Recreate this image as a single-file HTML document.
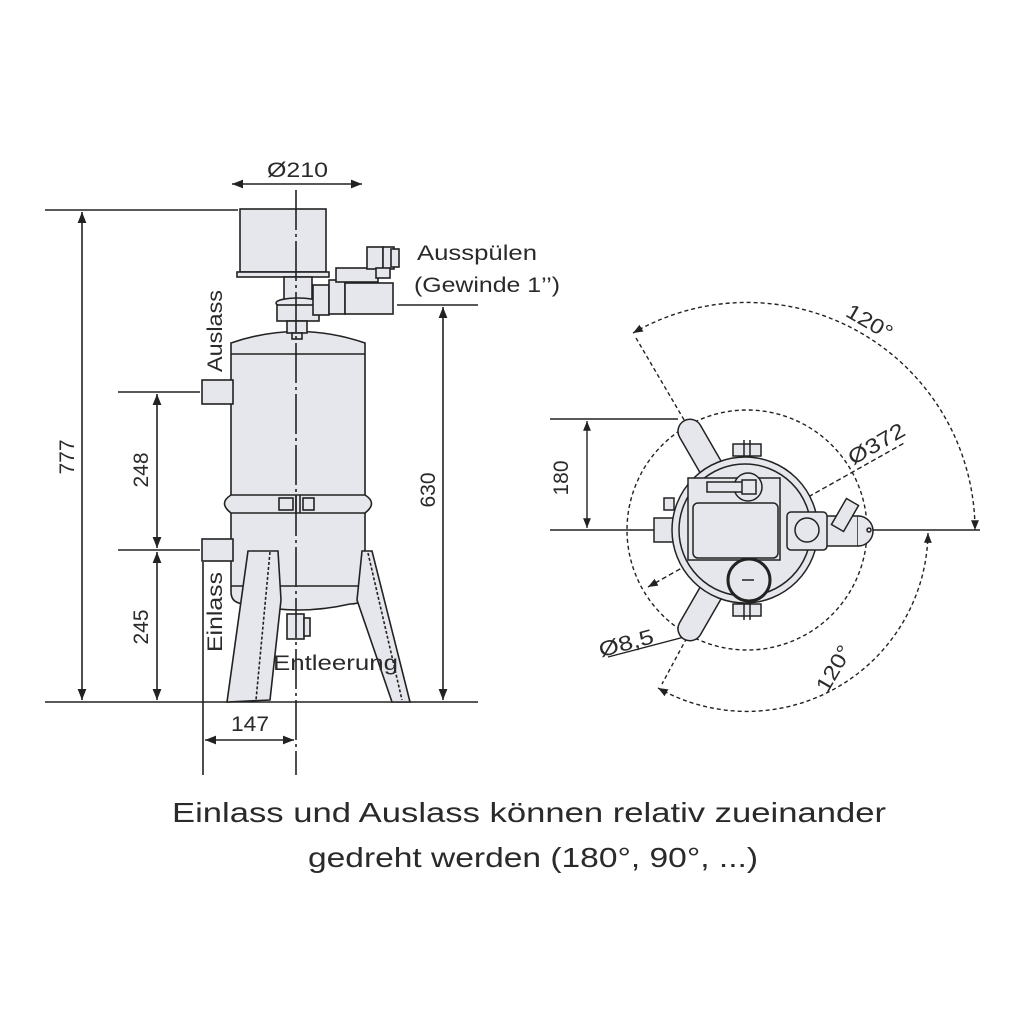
<!DOCTYPE html>
<html><head><meta charset="utf-8"><style>
html,body{margin:0;padding:0;background:#fff;}
svg{display:block}
text{font-family:"Liberation Sans",sans-serif;fill:#2a2a2a}
</style></head><body>
<svg width="1024" height="1024" viewBox="0 0 1024 1024" xmlns="http://www.w3.org/2000/svg">
<defs>
<marker id="a" viewBox="0 0 10 10" refX="10" refY="5" markerWidth="7" markerHeight="7" orient="auto-start-reverse"><path d="M0,1 L10,5 L0,9 z" fill="#222"/></marker>
</defs>
<g stroke="#222" stroke-width="1.6" fill="none">
<line x1="45" y1="210" x2="238" y2="210"/>
<line x1="45" y1="702" x2="478" y2="702"/>
<line x1="82" y1="212" x2="82" y2="700" marker-start="url(#a)" marker-end="url(#a)"/>
<line x1="118" y1="392" x2="200" y2="392"/>
<line x1="118" y1="550" x2="200" y2="550"/>
<line x1="157" y1="394" x2="157" y2="548" marker-start="url(#a)" marker-end="url(#a)"/>
<line x1="157" y1="552" x2="157" y2="700" marker-start="url(#a)" marker-end="url(#a)"/>
<line x1="397" y1="305" x2="478" y2="305"/>
<line x1="443" y1="307" x2="443" y2="700" marker-start="url(#a)" marker-end="url(#a)"/>
<line x1="203" y1="562" x2="203" y2="775"/>
<line x1="205" y1="740" x2="294" y2="740" marker-start="url(#a)" marker-end="url(#a)"/>
<line x1="232" y1="184" x2="362" y2="184" marker-start="url(#a)" marker-end="url(#a)"/>
</g>
<g stroke="#222" stroke-width="1.6" fill="#e6e7ec">
<path d="M231,592 L231,343 Q298,320 365,343 L365,592 Q365,604 350,604 Q298,616 246,604 Q231,604 231,592 z"/>
<line x1="231" y1="354" x2="365" y2="354"/>
<line x1="231" y1="586" x2="365" y2="586"/>
<path d="M231,495 L365,495 Q378,503 365,513 L231,513 Q218,503 231,495 z"/>
<rect x="279" y="498" width="14" height="12"/><rect x="303" y="498" width="11" height="12"/>
<line x1="296" y1="495" x2="296" y2="513"/><line x1="300" y1="495" x2="300" y2="513"/>
<rect x="202" y="380" width="31" height="24"/>
<rect x="202" y="539" width="31" height="22"/>
<path d="M248,551 L278,551 L281,600 L270,700 L227,702 z"/>
<path d="M362,551 L372,551 L410,702 L392,702 L357,600 z"/>
<line x1="270" y1="552" x2="256" y2="700" stroke-dasharray="3,2"/>
<line x1="368" y1="553" x2="402" y2="700" stroke-dasharray="3,2"/>
<rect x="287" y="614" width="17" height="25"/>
<rect x="304" y="618" width="6" height="18"/>
<rect x="240" y="209" width="86" height="63"/>
<rect x="237" y="272" width="92" height="5"/>
<rect x="284" y="277" width="28" height="24"/>
<ellipse cx="298" cy="303" rx="22" ry="5"/>
<rect x="277" y="305" width="42" height="16"/>
<rect x="287" y="321" width="20" height="12"/>
<rect x="292" y="333" width="10" height="6"/>
<rect x="313" y="285" width="16" height="30"/>
<rect x="329" y="280" width="16" height="34"/>
<rect x="345" y="283" width="48" height="31"/>
<rect x="336" y="268" width="42" height="14"/>
<rect x="367" y="247" width="16" height="22"/><rect x="383" y="247" width="11" height="22"/><rect x="391" y="249" width="8" height="18"/>
<rect x="376" y="268" width="14" height="10"/>
</g>
<line x1="296" y1="190" x2="296" y2="775" stroke="#222" stroke-width="1.6" stroke-dasharray="40,4,3,4"/>
<g font-size="21">
<text x="267" y="177" textLength="61" lengthAdjust="spacingAndGlyphs">Ø210</text>
<text x="417" y="260" textLength="120" lengthAdjust="spacingAndGlyphs">Ausspülen</text>
<text x="414" y="292" textLength="146" lengthAdjust="spacingAndGlyphs">(Gewinde 1’’)</text>
<text x="273" y="670" textLength="125" lengthAdjust="spacingAndGlyphs">Entleerung</text>
<text x="231" y="731" textLength="38" lengthAdjust="spacingAndGlyphs">147</text>
<text transform="translate(74,457) rotate(-90)" text-anchor="middle">777</text>
<text transform="translate(148,470) rotate(-90)" text-anchor="middle">248</text>
<text transform="translate(148,627) rotate(-90)" text-anchor="middle">245</text>
<text transform="translate(435,490) rotate(-90)" text-anchor="middle">630</text>
<text transform="translate(222,372) rotate(-90)" textLength="82" lengthAdjust="spacingAndGlyphs">Auslass</text>
<text transform="translate(222,652) rotate(-90)" textLength="80" lengthAdjust="spacingAndGlyphs">Einlass</text>
</g>
<g stroke="#222" stroke-width="1.4" fill="none">
<line x1="550" y1="530" x2="980" y2="530"/>
<line x1="550" y1="419" x2="678" y2="419"/>
<line x1="587" y1="421" x2="587" y2="528" marker-start="url(#a)" marker-end="url(#a)"/>
<circle cx="747" cy="530" r="120" stroke-dasharray="4,3"/>
<path d="M633,333 A228,228 0 0 1 975,530" stroke-dasharray="4,3" marker-start="url(#a)" marker-end="url(#a)"/>
<path d="M928,533 A181,181 0 0 1 658,688" stroke-dasharray="4,3" marker-start="url(#a)" marker-end="url(#a)"/>
<line x1="636" y1="338" x2="690" y2="430" stroke-dasharray="4,3"/>
<line x1="690" y1="632" x2="662" y2="684" stroke-dasharray="4,3"/>
<line x1="648" y1="587" x2="906" y2="442" stroke-dasharray="5,3" marker-start="url(#a)"/>
<line x1="608" y1="657" x2="692" y2="635"/>
</g>
<g stroke="#222" stroke-width="1.5" fill="#e6e7ec">
<g transform="rotate(-120 747 530)"><rect x="760" y="518" width="113" height="24" rx="12"/></g>
<g transform="rotate(120 747 530)"><rect x="760" y="518" width="113" height="24" rx="12"/></g>
<rect x="800" y="516" width="58" height="30"/>
<path d="M858,516 A14,14 0 0 1 858,546" />
<rect x="654" y="518" width="24" height="24"/>
<rect x="733" y="444" width="28" height="12"/><line x1="744" y1="440" x2="744" y2="460"/><line x1="750" y1="440" x2="750" y2="460"/>
<rect x="733" y="604" width="28" height="12"/><line x1="744" y1="600" x2="744" y2="620"/><line x1="750" y1="600" x2="750" y2="620"/>
<rect x="664" y="498" width="10" height="12"/>
<circle cx="745" cy="530" r="73"/>
<circle cx="745" cy="530" r="66"/>
<rect x="688" y="478" width="92" height="82"/>
<rect x="693" y="503" width="85" height="55" rx="5"/>
<circle cx="748" cy="487" r="14"/>
<rect x="707" y="482" width="40" height="10"/>
<rect x="742" y="480" width="14" height="14"/>
<circle cx="749" cy="580" r="21" stroke-width="3"/>
<line x1="742" y1="580" x2="754" y2="580"/>
<rect x="787" y="512" width="40" height="38" rx="4"/>
<circle cx="807" cy="530" r="12"/>
<g transform="rotate(30 845 515)"><rect x="838" y="500" width="14" height="30"/></g>
<circle cx="869" cy="530" r="2"/>
</g>
<g font-size="21">
<text transform="translate(568,478) rotate(-90)" text-anchor="middle">180</text>
<text transform="translate(880,450) rotate(-30)" text-anchor="middle" textLength="62" lengthAdjust="spacingAndGlyphs">Ø372</text>
<text transform="translate(628,650) rotate(-15)" text-anchor="middle" textLength="56" lengthAdjust="spacingAndGlyphs">Ø8,5</text>
<text transform="translate(866,328) rotate(30)" text-anchor="middle" textLength="50" lengthAdjust="spacingAndGlyphs">120°</text>
<text transform="translate(840,672) rotate(-60)" text-anchor="middle" textLength="50" lengthAdjust="spacingAndGlyphs">120°</text>
</g>
<g font-size="28" fill="#333">
<text x="172" y="822" textLength="714" lengthAdjust="spacingAndGlyphs">Einlass und Auslass können relativ zueinander</text>
<text x="308" y="867" textLength="450" lengthAdjust="spacingAndGlyphs">gedreht werden (180°, 90°, ...)</text>
</g>
</svg>
</body></html>
